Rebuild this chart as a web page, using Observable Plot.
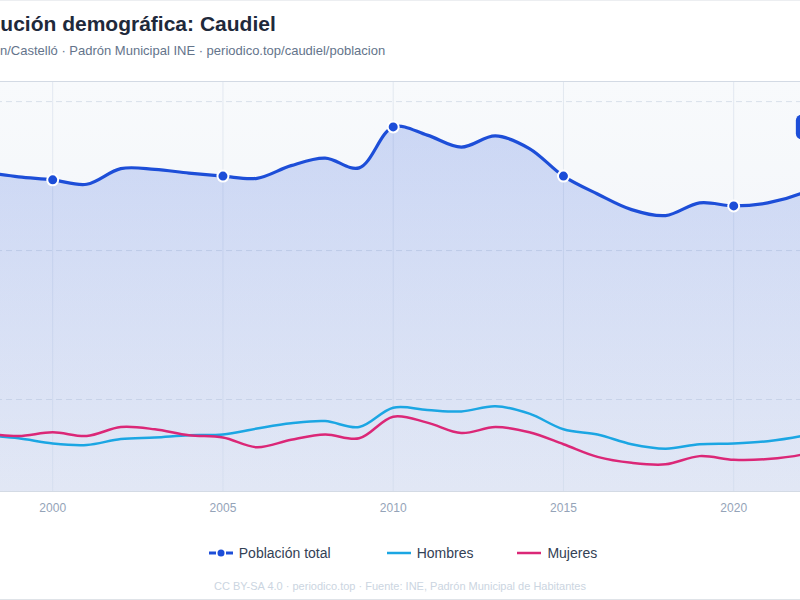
<!DOCTYPE html>
<html>
<head>
<meta charset="utf-8">
<script src="https://cdn.jsdelivr.net/npm/d3@7"></script>
<script src="https://cdn.jsdelivr.net/npm/@observablehq/plot@0.6"></script>
<style>
  html, body { margin: 0; padding: 0; background: #fff; width: 800px; height: 600px; overflow: hidden;
    font-family: "Liberation Sans", Arial, Helvetica, sans-serif; }
  #card { position: absolute; left: -20px; top: 0; width: 840px; height: 600px; box-sizing: border-box;
    border-top: 1px solid #eceef1; border-bottom: 1px solid #dfe3e8; }
  #title { position: absolute; left: -44px; top: 12px; font-size: 21px; line-height: 24px; font-weight: bold;
    color: #1e293b; white-space: nowrap; }
  #subtitle { position: absolute; left: -47px; top: 43px; font-size: 13px; line-height: 16px; color: #64748b; white-space: nowrap; }
  #chart { position: absolute; left: -134.2px; top: 71px; width: 1000px; height: 450px; }
  #chart svg { max-width: none !important; width: 1000px; height: 450px; display: block; }
  #legend { position: absolute; left: 0; top: 543px; width: 806px; height: 20px; display: flex; justify-content: center;
    align-items: center; font-size: 14px; color: #334155; }
  .item { display: flex; align-items: center; white-space: nowrap; }
  .item svg { margin-right: 6px; }
  #footer { position: absolute; left: 0; top: 580px; width: 800px; text-align: center; font-size: 11px; color: #cbd5e1; white-space: nowrap; }
</style>
</head>
<body>
<div id="card"></div>
<div id="title">Evolución demográfica: Caudiel</div>
<div id="subtitle">Castellón/Castelló · Padrón Municipal INE · periodico.top/caudiel/poblacion</div>
<div id="chart"></div>
<div id="legend">
  <div class="item" style="margin-right:56px">
    <svg width="24" height="10"><line x1="0" y1="5" x2="7" y2="5" stroke="#1d4ed8" stroke-width="3"/><circle cx="12" cy="5" r="3.5" fill="#1d4ed8"/><line x1="17" y1="5" x2="24" y2="5" stroke="#1d4ed8" stroke-width="3"/></svg>
    <span>Población total</span>
  </div>
  <div class="item" style="margin-right:44px">
    <svg width="24" height="10"><line x1="0" y1="5" x2="24" y2="5" stroke="#1ba6e3" stroke-width="2.5"/></svg>
    <span>Hombres</span>
  </div>
  <div class="item">
    <svg width="24" height="10"><line x1="0" y1="5" x2="24" y2="5" stroke="#db2777" stroke-width="2.5"/></svg>
    <span>Mujeres</span>
  </div>
</div>
<div id="footer">CC BY-SA 4.0 · periodico.top · Fuente: INE, Padrón Municipal de Habitantes</div>
<script>
const years   = [1996, 1998, 1999, 2000, 2001, 2002, 2003, 2004, 2005, 2006, 2007, 2008, 2009, 2010, 2011, 2012, 2013, 2014, 2015, 2016, 2017, 2018, 2019, 2020, 2021, 2022, 2023];
const total   = [718, 705, 699, 695, 689, 710, 709, 704, 700, 697, 714, 724, 711, 766, 755, 739, 754, 737, 700, 676, 655, 647, 664, 660, 664, 677, 700];
const hombres = [358, 352, 348, 341, 339, 347, 349, 352, 353, 361, 368, 371, 363, 389, 386, 384, 391, 381, 360, 353, 340, 334, 340, 341, 344, 351, 361];
const mujeres = [360, 354, 351, 356, 351, 363, 360, 352, 349, 336, 346, 353, 348, 377, 369, 355, 363, 356, 340, 323, 315, 313, 324, 319, 320, 326, 339];
const xTicks = [2000, 2005, 2010, 2015, 2020];
const yTicks = [400, 600, 800];
const dotYears = [2000, 2005, 2010, 2015, 2020];
const yDomain = [276.5, 827];
const xDomain = [1996, 2023];

const data = years.map((year, i) => ({year, total: total[i], hombres: hombres[i], mujeres: mujeres[i]}));
const last = data[data.length - 1];

const badgeRender = function(index, scales, values, dimensions, context, next) {
  const g = next(index, scales, values, dimensions, context);
  const ns = "http://www.w3.org/2000/svg";
  for (const i of index) {
    const cx = values.x[i], cy = values.y[i];
    const r = document.createElementNS(ns, "rect");
    r.setAttribute("x", cx - 40); r.setAttribute("y", cy - 12.5);
    r.setAttribute("width", 80); r.setAttribute("height", 25);
    r.setAttribute("rx", 6); r.setAttribute("fill", "#1d4ed8");
    g.insertBefore(r, g.firstChild);
  }
  return g;
};

const plot = Plot.plot({
  width: 1000, height: 450,
  marginTop: 10, marginBottom: 30, marginLeft: 50, marginRight: 30.65,
  style: {background: "transparent", fontFamily: "Liberation Sans, Arial, sans-serif", fontSize: "12px", color: "#94a3b8", overflow: "visible", maxWidth: "none"},
  x: {domain: xDomain, ticks: xTicks, tickFormat: d => String(d), tickSize: 0, tickPadding: 12, label: null},
  y: {domain: yDomain, ticks: yTicks, axis: null, label: null},
  marks: [
    Plot.frame({fill: "url(#bgGrad)", stroke: null}),
    Plot.ruleX(xTicks, {stroke: "#e2e8f0", strokeWidth: 1}),
    Plot.ruleY(yTicks, {stroke: "#d9e0ea", strokeWidth: 1, strokeDasharray: "6,4"}),
    Plot.areaY(data, {x: "year", y1: () => yDomain[0], y2: "total", curve: "catmull-rom", fill: "url(#areaGrad)"}),
    Plot.line(data, {x: "year", y: "hombres", stroke: "#1ba6e3", strokeWidth: 2.5, curve: "catmull-rom"}),
    Plot.line(data, {x: "year", y: "mujeres", stroke: "#db2777", strokeWidth: 2.5, curve: "catmull-rom"}),
    Plot.line(data, {x: "year", y: "total", stroke: "#1d4ed8", strokeWidth: 3.2, curve: "catmull-rom"}),
    Plot.dot(data.filter(d => dotYears.includes(d.year)), {x: "year", y: "total", r: 5.5, fill: "#1d4ed8", stroke: "white", strokeWidth: 2}),
    Plot.text([last], {x: "year", y: "total", text: d => `${d.year}: ${d.total}`, dy: -49, fill: "white", fontWeight: "bold", fontSize: 12, render: badgeRender}),
    Plot.frame({stroke: "#d3dae4"})
  ]
});

plot.insertAdjacentHTML("afterbegin",
  `<defs>
     <linearGradient id="bgGrad" x1="0" y1="0" x2="0" y2="1">
       <stop offset="0" stop-color="#f8fafc"/><stop offset="1" stop-color="#eef1f7"/>
     </linearGradient>
     <linearGradient id="areaGrad" x1="0" y1="0" x2="0" y2="1">
       <stop offset="0" stop-color="#1d4ed8" stop-opacity="0.2"/><stop offset="1" stop-color="#1d4ed8" stop-opacity="0.06"/>
     </linearGradient>
   </defs>`);
document.getElementById("chart").appendChild(plot);
</script>
</body>
</html>
